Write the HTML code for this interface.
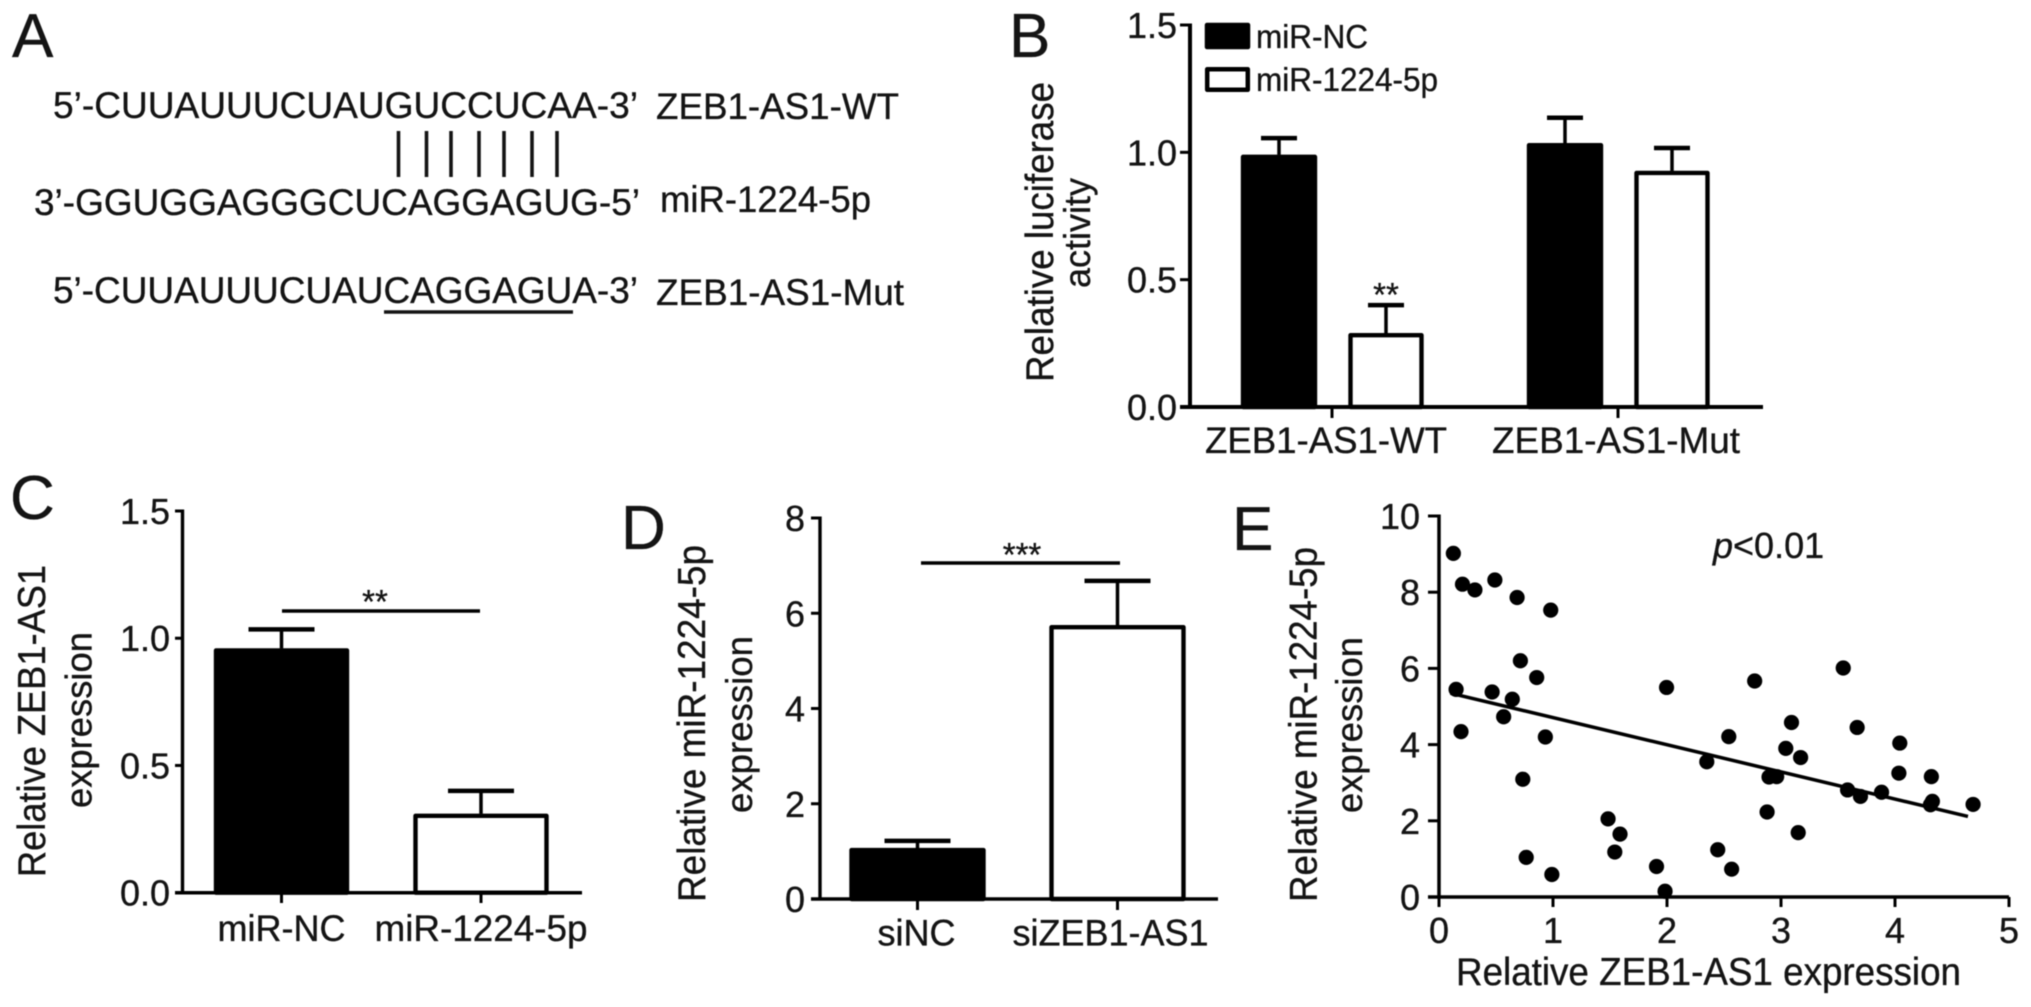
<!DOCTYPE html>
<html lang="en">
<head>
<meta charset="utf-8">
<title>ZEB1-AS1 and miR-1224-5p figure</title>
<style>
html,body{margin:0;padding:0;background:#fff;width:2031px;height:1007px;overflow:hidden}
svg{display:block;filter:blur(0.6px)}
text{font-family:"Liberation Sans",sans-serif;fill:#141414;stroke:#141414;stroke-width:0.35px}
</style>
</head>
<body>
<svg id="figure" xmlns="http://www.w3.org/2000/svg" width="2031" height="1007" viewBox="0 0 2031 1007">
<rect width="2031" height="1007" fill="#fff"/>

<g font-size="37">
  <text x="12" y="57" font-size="62">A</text>
  <text x="53" y="118" textLength="585" lengthAdjust="spacingAndGlyphs">5’-CUUAUUUCUAUGUCCUCAA-3’</text>
  <text x="656" y="119" textLength="243" lengthAdjust="spacingAndGlyphs">ZEB1-AS1-WT</text>
  <g stroke="#141414" stroke-width="3.6">
    <line x1="398.5" y1="131" x2="398.5" y2="177"/><line x1="426.5" y1="131" x2="426.5" y2="177"/><line x1="451" y1="131" x2="451" y2="177"/><line x1="479" y1="131" x2="479" y2="177"/><line x1="504" y1="131" x2="504" y2="177"/><line x1="532" y1="131" x2="532" y2="177"/><line x1="557" y1="131" x2="557" y2="177"/>
  </g>
  <text x="34" y="215" textLength="606" lengthAdjust="spacingAndGlyphs">3’-GGUGGAGGGCUCAGGAGUG-5’</text>
  <text x="660" y="212" textLength="211" lengthAdjust="spacingAndGlyphs">miR-1224-5p</text>
  <text x="53" y="303" textLength="585" lengthAdjust="spacingAndGlyphs">5’-CUUAUUUCUAUCAGGAGUA-3’</text>
  <text x="656" y="305" textLength="248" lengthAdjust="spacingAndGlyphs">ZEB1-AS1-Mut</text>
  <line x1="384" y1="312" x2="573" y2="312" stroke="#141414" stroke-width="3.4"/>
</g>

<g font-size="62">
  <text x="1009" y="57">B</text>
  <text x="10" y="519">C</text>
  <text x="621" y="549">D</text>
  <text x="1232" y="550">E</text>
</g>

<g font-size="37">
  <text font-size="39" transform="translate(1053,382) rotate(-90)" textLength="300" lengthAdjust="spacingAndGlyphs">Relative luciferase</text>
  <text transform="translate(1090,288) rotate(-90)" textLength="110" lengthAdjust="spacingAndGlyphs">activity</text>
  <text font-size="39" transform="translate(45,877) rotate(-90)" textLength="312" lengthAdjust="spacingAndGlyphs">Relative ZEB1-AS1</text>
  <text transform="translate(91.5,808) rotate(-90)" textLength="176" lengthAdjust="spacingAndGlyphs">expression</text>
  <text font-size="39" transform="translate(705,902) rotate(-90)" textLength="357" lengthAdjust="spacingAndGlyphs">Relative miR-1224-5p</text>
  <text transform="translate(752,813) rotate(-90)" textLength="177" lengthAdjust="spacingAndGlyphs">expression</text>
  <text font-size="39" transform="translate(1316.5,902) rotate(-90)" textLength="355" lengthAdjust="spacingAndGlyphs">Relative miR-1224-5p</text>
  <text transform="translate(1362,813) rotate(-90)" textLength="176" lengthAdjust="spacingAndGlyphs">expression</text>
  <text x="1456" y="985" font-size="39" textLength="505" lengthAdjust="spacingAndGlyphs">Relative ZEB1-AS1 expression</text>
  <text x="1713" y="558" font-size="36"><tspan font-style="italic">p</tspan>&lt;0.01</text>
</g>

<g font-size="33">
  <rect x="1207" y="25" width="41" height="22" fill="#000" stroke="#000" stroke-width="4.5" stroke-linejoin="round"/>
  <text x="1256" y="48" textLength="112" lengthAdjust="spacingAndGlyphs">miR-NC</text>
  <rect x="1207.2" y="69.2" width="40.6" height="20.6" fill="#fff" stroke="#000" stroke-width="4.5" stroke-linejoin="round"/>
  <text x="1256" y="91" textLength="182" lengthAdjust="spacingAndGlyphs">miR-1224-5p</text>
</g>

<g id="charts"></g>
</svg>

<script>
// Panel B: luciferase activity
const bTickLabels = ['0.0', '0.5', '1.0', '1.5'];
const bTickValues = [0, 0.5, 1, 1.5];
const bCategories = ['ZEB1-AS1-WT', 'ZEB1-AS1-Mut'];
const bMirNc = [0.99, 1.036];
const bMirNcErr = [0.066, 0.10];
const bMir1224 = [0.29, 0.927];
const bMir1224Err = [0.11, 0.09];

// Panel C: ZEB1-AS1 expression
const cTickLabels = ['0.0', '0.5', '1.0', '1.5'];
const cTickValues = [0, 0.5, 1, 1.5];
const cCategories = ['miR-NC', 'miR-1224-5p'];
const cValues = [0.96, 0.31];
const cErrors = [0.075, 0.09];

// Panel D: miR-1224-5p expression
const dTickLabels = ['0', '2', '4', '6', '8'];
const dTickValues = [0, 2, 4, 6, 8];
const dCategories = ['siNC', 'siZEB1-AS1'];
const dValues = [1.07, 5.75];
const dErrors = [0.15, 0.93];

// Panel E: correlation scatter
const eXTicks = [0, 1, 2, 3, 4, 5];
const eYTicks = [0, 2, 4, 6, 8, 10];
const eXValues = [0.126,0.206,0.315,0.49,0.685,0.98,0.714,0.857,0.15,0.466,0.643,0.567,0.193,0.933,0.735,0.765,0.99,1.483,1.588,1.542,1.908,1.983,1.996,2.349,2.445,2.542,2.567,2.769,2.878,2.895,2.962,3.042,3.092,3.172,3.151,3.546,3.584,3.668,3.697,3.882,4.034,4.042,4.319,4.311,4.328,4.685];
const eYValues = [9.02,8.21,8.06,8.32,7.86,7.53,6.2,5.76,5.45,5.38,5.19,4.73,4.34,4.2,3.09,1.04,0.59,2.05,1.65,1.18,0.8,0.15,5.5,3.55,1.24,4.21,0.73,5.67,2.23,3.15,3.16,3.9,4.58,3.66,1.69,6.01,2.81,4.45,2.64,2.75,3.25,4.04,3.16,2.42,2.51,2.43];
const eFitX = [0.1, 4.64];
const eFitY = [5.35, 2.115];

const NS = 'http://www.w3.org/2000/svg';
const root = document.getElementById('charts');
const INK = '#000';

function add(tag, attrs, parent, content) {
  const node = document.createElementNS(NS, tag);
  for (const k in attrs) node.setAttribute(k, attrs[k]);
  if (content !== undefined) node.textContent = content;
  (parent || root).appendChild(node);
  return node;
}

function linearScale(d0, d1, r0, r1) {
  return function (v) { return r0 + (v - d0) * (r1 - r0) / (d1 - d0); };
}

function drawLine(parent, x1, y1, x2, y2, w, name) {
  const el = add('line', {x1: x1, y1: y1, x2: x2, y2: y2, stroke: INK, 'stroke-width': w}, parent);
  
  
  return el;
}

function drawYAxis(parent, x, y, tickVals, tickLabels, tickLeft, gap, axisW, prefix) {
  drawLine(parent, x, y(tickVals[tickVals.length - 1]) - 1.5, x, y(0), axisW, prefix + '-y-axis');
  tickVals.forEach(function (v, i) {
    drawLine(parent, tickLeft, y(v), x, y(v), 3, prefix + '-y-tick');
    const t = add('text', {x: tickLeft - gap, y: y(v) + 13, 'text-anchor': 'end', 'font-size': 36}, parent, tickLabels[i]);
    
    
  });
}

function drawBar(parent, cx, halfW, value, err, capHalf, y, filled, name) {
  drawLine(parent, cx, y(value), cx, y(value + err), 3.5, name + '-error-stem');
  drawLine(parent, cx - capHalf, y(value + err), cx + capHalf, y(value + err), 4.5, name + '-error-cap');
  const r = add('rect', {
    x: cx - halfW + 2, y: y(value) + 2,
    width: 2 * halfW - 4, height: y(0) - y(value) - 2,
    fill: filled ? '#000' : '#fff', stroke: '#000', 'stroke-width': 4.4, 'stroke-linejoin': 'round'
  }, parent);
  
  
}

function drawCategory(parent, cx, baseline, label, width, prefix) {
  const t = add('text', {x: cx, y: baseline, 'text-anchor': 'middle', 'font-size': 37, textLength: width, lengthAdjust: 'spacingAndGlyphs'}, parent, label);
  
  
}

function drawStars(parent, cx, baseline, stars, name) {
  const t = add('text', {x: cx, y: baseline, 'text-anchor': 'middle', 'font-size': 33}, parent, stars);
  
  
}

/* Panel B */
(function () {
  const g = add('g', {});
  
  
  const y = linearScale(0, 1.5, 407, 25);
  drawYAxis(g, 1190, y, bTickValues, bTickLabels, 1180, 3, 4, 'b');
  const centers = [1332, 1618];
  centers.forEach(function (c, i) {
    drawBar(g, c - 53, 38, bMirNc[i], bMirNcErr[i], 18, y, true, 'bar-mir-nc-' + (i + 1));
    drawBar(g, c + 54, 37.5, bMir1224[i], bMir1224Err[i], 18, y, false, 'bar-mir-1224-' + (i + 1));
    drawLine(g, c, y(0), c, 418, 3, 'b-x-tick');
  });
  drawLine(g, 1180, y(0), 1763, y(0), 4, 'b-x-axis');
  drawCategory(g, centers[0] - 6, 453, bCategories[0], 242, 'b');
  drawCategory(g, centers[1] - 2, 453, bCategories[1], 248, 'b');
  drawStars(g, 1386, 306, '**', 'b-significance');
})();

/* Panel C */
(function () {
  const g = add('g', {});
  
  
  const y = linearScale(0, 1.5, 892.7, 511);
  drawYAxis(g, 182.5, y, cTickValues, cTickLabels, 175, 5, 3.4, 'c');
  const centers = [281.5, 481];
  const widths = [128, 213];
  centers.forEach(function (c, i) {
    drawBar(g, c, 67.5, cValues[i], cErrors[i], 33, y, i === 0, 'bar-c-' + cCategories[i].toLowerCase());
    drawLine(g, c, y(0), c, 903, 3, 'c-x-tick');
    drawCategory(g, c, 941, cCategories[i], widths[i], 'c');
  });
  drawLine(g, 175, y(0), 582, y(0), 3.5, 'c-x-axis');
  drawLine(g, 282, 611, 480, 611, 3.5, 'c-significance-line');
  drawStars(g, 375, 613, '**', 'c-significance');
})();

/* Panel D */
(function () {
  const g = add('g', {});
  
  
  const y = linearScale(0, 8, 899, 518);
  drawYAxis(g, 820, y, dTickValues, dTickLabels, 811, 6, 3.4, 'd');
  const centers = [917.5, 1117.5];
  centers.forEach(function (c, i) {
    drawBar(g, c, 68, dValues[i], dErrors[i], 33, y, i === 0, 'bar-d-' + dCategories[i].toLowerCase());
    drawLine(g, c, y(0), c, 910, 3, 'd-x-tick');
  });
  drawLine(g, 811, y(0), 1218, y(0), 3.5, 'd-x-axis');
  drawCategory(g, centers[0] - 1, 945.5, dCategories[0], 78, 'd');
  drawCategory(g, centers[1] - 7, 945.5, dCategories[1], 196, 'd');
  drawLine(g, 921, 563, 1120, 563, 3.5, 'd-significance-line');
  drawStars(g, 1022, 566, '***', 'd-significance');
})();

/* Panel E */
(function () {
  const g = add('g', {});
  
  
  const x = linearScale(0, 5, 1439, 2009);
  const y = linearScale(0, 10, 897, 516);
  drawYAxis(g, x(0), y, eYTicks, eYTicks.map(String), 1428, 8, 3.5, 'e');
  eXTicks.forEach(function (v) {
    drawLine(g, x(v), y(0), x(v), 907, 3, 'e-x-tick');
    const t = add('text', {x: x(v), y: 943, 'text-anchor': 'middle', 'font-size': 36}, g, String(v));
    
    
  });
  drawLine(g, 1428, y(0), 2009, y(0), 3.5, 'e-x-axis');
  eXValues.forEach(function (v, i) {
    const c = add('circle', {cx: x(v), cy: y(eYValues[i]), r: 7.6, fill: '#000'}, g);
    
    
  });
  drawLine(g, x(eFitX[0]), y(eFitY[0]), x(eFitX[1]), y(eFitY[1]), 3.5, 'e-regression-line');
})();
</script>
</body>
</html>
